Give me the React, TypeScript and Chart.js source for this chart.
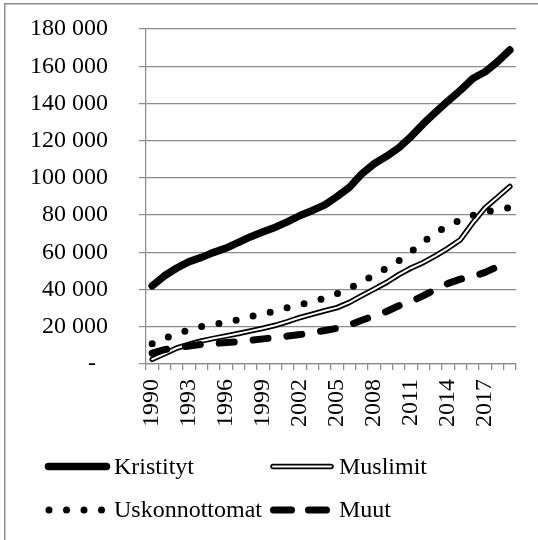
import React, { useEffect, useRef } from "react";
import { Chart, registerables } from "chart.js";

Chart.register(...registerables);

const years = [
  "1990", "1991", "1992", "1993", "1994", "1995", "1996", "1997", "1998", "1999",
  "2000", "2001", "2002", "2003", "2004", "2005", "2006", "2007", "2008", "2009",
  "2010", "2011", "2012", "2013", "2014", "2015", "2016", "2017", "2018", "2019",
];

const kristityt = [
  42000, 47400, 51600, 55000, 57300, 60000, 62300, 65400, 68400, 71100,
  73500, 76500, 79800, 82500, 85500, 90000, 95000, 102200, 107600, 111600,
  116200, 122300, 129200, 135400, 141400, 147100, 153400, 157000, 162400, 168700,
];

const muslimit = [
  2500, 5500, 8600, 10600, 12400, 13800, 15100, 16400, 17800, 19200,
  20800, 22800, 25000, 26800, 28600, 30300, 33100, 36700, 40200, 43800,
  48000, 51600, 54600, 58200, 62300, 66800, 75900, 83900, 89600, 95400,
];

const uskonnottomat = [
  10900, 13700, 16200, 18300, 20200, 21300, 22400, 23700, 25500, 27100,
  28300, 30300, 31900, 33500, 35400, 37800, 40700, 44100, 47900, 51400,
  55500, 60300, 65600, 70600, 74200, 77400, 79900, 81700, 82900, 84000,
];

const muut = [
  5800, 7700, 8800, 9700, 10600, 11000, 11500, 12000, 12700, 13500,
  14200, 15000, 15800, 16900, 18000, 19200, 21000, 23500, 25900, 28200,
  31300, 33600, 36700, 40200, 43300, 45600, 47100, 49200, 52300, 55100,
];

const seriesNames = ["Kristityt", "Muslimit", "Uskonnottomat", "Muut"];

const FONT = "'Liberation Serif', 'Times New Roman', serif";
const GRID = "#8c8c8c";

function fmt(v: number): string {
  if (v === 0) return "-\u00a0\u00a0";
  return String(v).replace(/\B(?=(\d{3})+(?!\d))/g, " ");
}

function zeroPadding(scale: any) {
  scale.paddingTop = 0;
  scale.paddingBottom = 0;
  scale.paddingLeft = 0;
  scale.paddingRight = 0;
}

const framePlugin = {
  id: "frame",
  beforeDraw(chart: any) {
    const ctx = chart.ctx;
    ctx.save();
    ctx.fillStyle = "#ffffff";
    ctx.fillRect(0, 0, chart.width, chart.height);
    ctx.strokeStyle = GRID;
    ctx.lineWidth = 1.5;
    ctx.strokeRect(4.75, 3.75, 800, 800);
    ctx.restore();
  },
};

const legendPlugin = {
  id: "customLegend",
  afterDraw(chart: any) {
    const ctx = chart.ctx;
    const items = chart.data.datasets.filter((d: any) => d.legendKind);
    const cols = [45, 270];
    const rows = [466.5, 510];
    ctx.save();
    items.forEach((d: any, idx: number) => {
      const x = cols[idx % 2];
      const y = rows[Math.floor(idx / 2)];
      ctx.lineCap = "round";
      ctx.strokeStyle = "#000";
      ctx.setLineDash([]);
      if (d.legendKind === "solid") {
        ctx.lineWidth = 7.5;
        ctx.beginPath();
        ctx.moveTo(x + 3.5, y);
        ctx.lineTo(x + 61.5, y);
        ctx.stroke();
      } else if (d.legendKind === "double") {
        ctx.lineWidth = 5.5;
        ctx.beginPath();
        ctx.moveTo(x + 3, y);
        ctx.lineTo(x + 61, y);
        ctx.stroke();
        ctx.strokeStyle = "#fff";
        ctx.lineWidth = 2;
        ctx.beginPath();
        ctx.moveTo(x + 3, y);
        ctx.lineTo(x + 61, y);
        ctx.stroke();
      } else if (d.legendKind === "dots") {
        ctx.fillStyle = "#000";
        for (let k = 0; k < 4; k++) {
          ctx.beginPath();
          ctx.arc(x + 4 + k * 17.5, y, 3.5, 0, Math.PI * 2);
          ctx.fill();
        }
      } else if (d.legendKind === "dash") {
        ctx.lineWidth = 7;
        ctx.beginPath();
        ctx.moveTo(x + 3.5, y);
        ctx.lineTo(x + 21.5, y);
        ctx.moveTo(x + 38.5, y);
        ctx.lineTo(x + 56.5, y);
        ctx.stroke();
      }
      ctx.fillStyle = "#000";
      ctx.font = `24px ${FONT}`;
      ctx.textBaseline = "middle";
      ctx.textAlign = "left";
      ctx.fillText(d.label, x + 69, y + 1);
    });
    ctx.restore();
  },
};

export default function App() {
  const ref = useRef<HTMLCanvasElement | null>(null);

  useEffect(() => {
    if (!ref.current) return;
    const chart = new Chart(ref.current, {
      type: "line",
      data: {
        labels: years,
        datasets: [
          {
            label: seriesNames[0],
            data: kristityt,
            borderColor: "#000",
            borderWidth: 7.5,
            borderCapStyle: "round",
            borderJoinStyle: "round",
            pointRadius: 0,
            tension: 0,
            order: 5,
            legendKind: "solid",
          } as any,
          {
            label: seriesNames[1],
            data: muslimit,
            borderColor: "#000",
            borderWidth: 5.5,
            borderCapStyle: "round",
            borderJoinStyle: "round",
            pointRadius: 0,
            tension: 0,
            order: 4,
            legendKind: "double",
          } as any,
          {
            label: seriesNames[1] + " (sisä)",
            data: muslimit,
            borderColor: "#fff",
            borderWidth: 2,
            borderCapStyle: "round",
            borderJoinStyle: "round",
            pointRadius: 0,
            tension: 0,
            order: 3,
          } as any,
          {
            label: seriesNames[2],
            data: uskonnottomat,
            borderColor: "#000",
            borderWidth: 7,
            borderDash: [0, 17.5],
            borderCapStyle: "round",
            borderJoinStyle: "round",
            pointRadius: 0,
            tension: 0,
            order: 2,
            legendKind: "dots",
          } as any,
          {
            label: seriesNames[3],
            data: muut,
            borderColor: "#000",
            borderWidth: 7,
            borderDash: [15, 19],
            borderCapStyle: "round",
            borderJoinStyle: "round",
            pointRadius: 0,
            tension: 0,
            order: 1,
            legendKind: "dash",
          } as any,
        ],
      },
      options: {
        animation: false,
        responsive: true,
        maintainAspectRatio: false,
        layout: { padding: { top: 29, right: 22, bottom: 86, left: 0 } },
        plugins: {
          legend: { display: false },
          tooltip: { enabled: false },
          title: { display: false },
        },
        scales: {
          x: {
            type: "category",
            offset: true,
            afterFit: (scale: any) => {
              scale.height = 90;
              zeroPadding(scale);
            },
            grid: {
              display: true,
              drawOnChartArea: false,
              drawTicks: true,
              tickLength: 6,
              offset: true,
              color: GRID,
              lineWidth: 1.25,
            },
            border: { display: true, color: GRID, width: 1.25 },
            ticks: {
              autoSkip: false,
              minRotation: 90,
              maxRotation: 90,
              padding: 9,
              color: "#000",
              font: { family: FONT, size: 24 },
              callback: (_v: any, i: number) => (i % 3 === 0 ? years[i] : ""),
            },
          },
          y: {
            min: 0,
            max: 180000,
            afterFit: (scale: any) => {
              scale.width = 146;
              zeroPadding(scale);
            },
            grid: {
              display: true,
              drawOnChartArea: true,
              drawTicks: true,
              tickLength: 7,
              color: GRID,
              lineWidth: 1.25,
            },
            border: { display: true, color: GRID, width: 1.25 },
            ticks: {
              stepSize: 20000,
              padding: 31,
              color: "#000",
              font: { family: FONT, size: 24 },
              callback: (v: any) => fmt(Number(v)),
            },
          },
        },
      },
      plugins: [framePlugin, legendPlugin],
    });
    return () => chart.destroy();
  }, []);

  return (
    <div style={{ position: "absolute", left: 0, top: 0, width: 538, height: 540 }}>
      <canvas ref={ref} style={{ width: "100%", height: "100%" }} />
    </div>
  );
}
